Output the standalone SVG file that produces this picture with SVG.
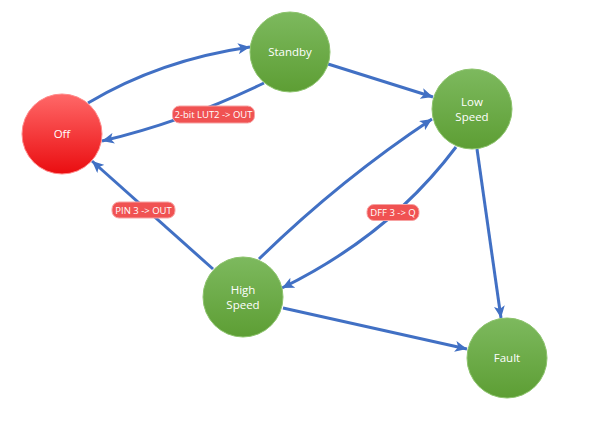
<svg xmlns="http://www.w3.org/2000/svg" width="600" height="422" viewBox="0 0 600 422">
<defs>
<linearGradient id="gGreen" x1="0" y1="0" x2="0" y2="1">
<stop offset="0" stop-color="#7db95e"/>
<stop offset="1" stop-color="#5d9e34"/>
</linearGradient>
<linearGradient id="gRed" x1="0" y1="0" x2="0" y2="1">
<stop offset="0" stop-color="#ff6868"/>
<stop offset="1" stop-color="#ea0d10"/>
</linearGradient>
<marker id="arr" markerUnits="userSpaceOnUse" markerWidth="13" markerHeight="11" refX="12" refY="5.5" orient="auto">
<path d="M0,0 L12,5.5 L0,11 L3,5.5 Z" fill="#4170c4"/>
</marker>
<style>
.edge{fill:none;stroke:#4170c4;stroke-width:3;marker-end:url(#arr)}
.green{fill:url(#gGreen);stroke:#8cc36c;stroke-width:1}
.red{fill:url(#gRed);stroke:#ff8a8a;stroke-width:1}
.nt{font-family:"Open Sans","Liberation Sans",Arial,sans-serif;font-size:11.5px;fill:#ffffff;text-anchor:middle}
.lbl{fill:#f05252;stroke:#f7a3a3;stroke-width:1}
.lt{font-family:"Open Sans","Liberation Sans",Arial,sans-serif;font-size:9.5px;fill:#ffffff;text-anchor:middle}
</style>
</defs>
<rect width="600" height="422" fill="#ffffff"/>
<g id="connectors">
<path class="edge" d="M88,103 Q160,60 250,47"/>
<path class="edge" d="M264,83 Q183,122 102,141"/>
<path class="edge" d="M328,64 L433,97"/>
<path class="edge" d="M259,259 Q340,180 432,119"/>
<path class="edge" d="M456,147 Q390,235 282,288"/>
<path class="edge" d="M477,149 L501,318"/>
<path class="edge" d="M213,269 L92,161"/>
<path class="edge" d="M283,308 L467,349"/>
<g id="label-lut2">
<rect class="lbl" x="172.5" y="106" width="82" height="17" rx="7"/>
<text class="lt" x="213.5" y="118">2-bit LUT2 -&gt; OUT</text>
</g>
<g id="label-pin3">
<rect class="lbl" x="112" y="202" width="63" height="16" rx="7"/>
<text class="lt" x="143.5" y="213.5">PIN 3 -&gt; OUT</text>
</g>
<g id="label-dff3">
<rect class="lbl" x="367" y="204.5" width="52" height="16" rx="7"/>
<text class="lt" x="393" y="216">DFF 3 -&gt; Q</text>
</g>
</g>
<g id="node-off">
<circle class="red" cx="62" cy="134" r="40"/>
<text class="nt" x="62" y="138">Off</text>
</g>
<g id="node-standby">
<circle class="green" cx="290" cy="52" r="40"/>
<text class="nt" x="290" y="56">Standby</text>
</g>
<g id="node-lowspeed">
<circle class="green" cx="472" cy="109" r="40"/>
<text class="nt" x="472" y="106">Low</text>
<text class="nt" x="472" y="121">Speed</text>
</g>
<g id="node-highspeed">
<circle class="green" cx="243" cy="297" r="40"/>
<text class="nt" x="243" y="294">High</text>
<text class="nt" x="243" y="309">Speed</text>
</g>
<g id="node-fault">
<circle class="green" cx="507" cy="358" r="40"/>
<text class="nt" x="507" y="362">Fault</text>
</g>
</svg>
